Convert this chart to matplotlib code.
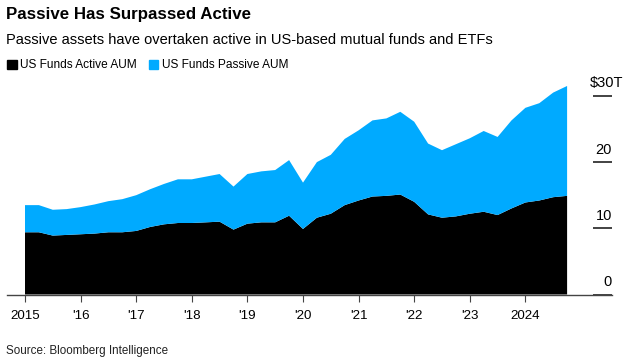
import matplotlib.pyplot as plt
from matplotlib.transforms import ScaledTranslation
import numpy as np

plt.rcParams['font.family'] = ['Liberation Sans', 'DejaVu Sans']

# quarterly points, 2015 Q1 .. 2024 Q4 ($T)
quarters = np.arange(2015, 2025, 0.25)
active = [9.4, 9.4, 8.9, 9.0, 9.1, 9.2, 9.4, 9.4, 9.6, 10.2,
          10.6, 10.8, 10.8, 10.9, 11.0, 9.8, 10.7, 10.9, 10.9, 11.9,
          9.9, 11.6, 12.2, 13.5, 14.2, 14.8, 14.9, 15.1, 14.0, 12.1,
          11.6, 11.8, 12.2, 12.5, 12.0, 13.0, 13.9, 14.2, 14.7, 14.9]
total = [13.5, 13.5, 12.8, 12.9, 13.2, 13.6, 14.1, 14.4, 15.0, 15.9,
         16.7, 17.4, 17.4, 17.8, 18.2, 16.3, 18.2, 18.6, 18.8, 20.3,
         16.9, 20.0, 21.1, 23.5, 24.8, 26.3, 26.6, 27.6, 26.1, 22.8,
         21.8, 22.7, 23.6, 24.7, 23.8, 26.3, 28.2, 28.9, 30.5, 31.5]
passive = [t - a for t, a in zip(total, active)]

years = list(range(2015, 2025))
year_labels = ['2015', "'16", "'17", "'18", "'19", "'20", "'21", "'22", "'23", '2024']
y_ticks = [0, 10, 20, 30]
y_labels = ['0', '10', '20', '$30T']

fig = plt.figure(figsize=(6.26, 3.62), dpi=100)
ax = fig.add_axes([7 / 626, (362 - 294.5) / 362, (612 - 7) / 626, (294.5 - 80) / 362])

ax.stackplot(quarters, active, passive, colors=['#000000', '#00AAFF'], linewidth=0)

ax.set_xlim(2015 - 18 / 55.6, 2015 + (612 - 25) / 55.6)
ax.set_ylim(0, (294.5 - 80) / 6.62)

for s in ['top', 'left', 'right']:
    ax.spines[s].set_visible(False)
ax.spines['bottom'].set_color('#444444')
ax.spines['bottom'].set_linewidth(1)

ax.set_xticks(years)
ax.set_xticklabels(year_labels, fontsize=9.6)
ax.tick_params(axis='x', length=5, color='#444444', pad=6)

# right-side y ticks with labels sitting above the tick marks
ax.yaxis.tick_right()
ax.set_yticks(y_ticks)
ax.set_yticklabels(y_labels, fontsize=10.5)
ax.tick_params(axis='y', direction='in', length=14, width=1.2, pad=0, color='#222222')
for lbl in ax.get_yticklabels():
    lbl.set_horizontalalignment('right')
    lbl.set_verticalalignment('bottom')
    dx = 11 / 100 if lbl.get_text().endswith('T') else 0
    lbl.set_transform(lbl.get_transform() + ScaledTranslation(dx, 4 / 72, fig.dpi_scale_trans))
ax.yaxis.get_major_ticks()[-1].tick2line.set_color('#888888')

fig.text(6 / 626, 1 - 14.5 / 362, 'Passive Has Surpassed Active', fontsize=12.2,
         fontweight='bold', va='center', ha='left')
fig.text(6 / 626, 1 - 40.5 / 362,
         'Passive assets have overtaken active in US-based mutual funds and ETFs',
         fontsize=10.5, va='center', ha='left')

# legend
fig.patches.append(plt.Rectangle((7 / 626, 1 - 69 / 362), 9.5 / 626, 9.5 / 362,
                                 transform=fig.transFigure, color='#000000'))
fig.text(20.5 / 626, 1 - 64.5 / 362, 'US Funds Active AUM', fontsize=8.6, va='center', ha='left')
fig.patches.append(plt.Rectangle((148.5 / 626, 1 - 69 / 362), 9.5 / 626, 9.5 / 362,
                                 transform=fig.transFigure, color='#00AAFF'))
fig.text(162 / 626, 1 - 64.5 / 362, 'US Funds Passive AUM', fontsize=8.6, va='center', ha='left')

fig.text(6 / 626, 1 - 351 / 362, 'Source: Bloomberg Intelligence', fontsize=8.4,
         va='center', ha='left', color='#222222')

fig.savefig('out.png', dpi=100)
